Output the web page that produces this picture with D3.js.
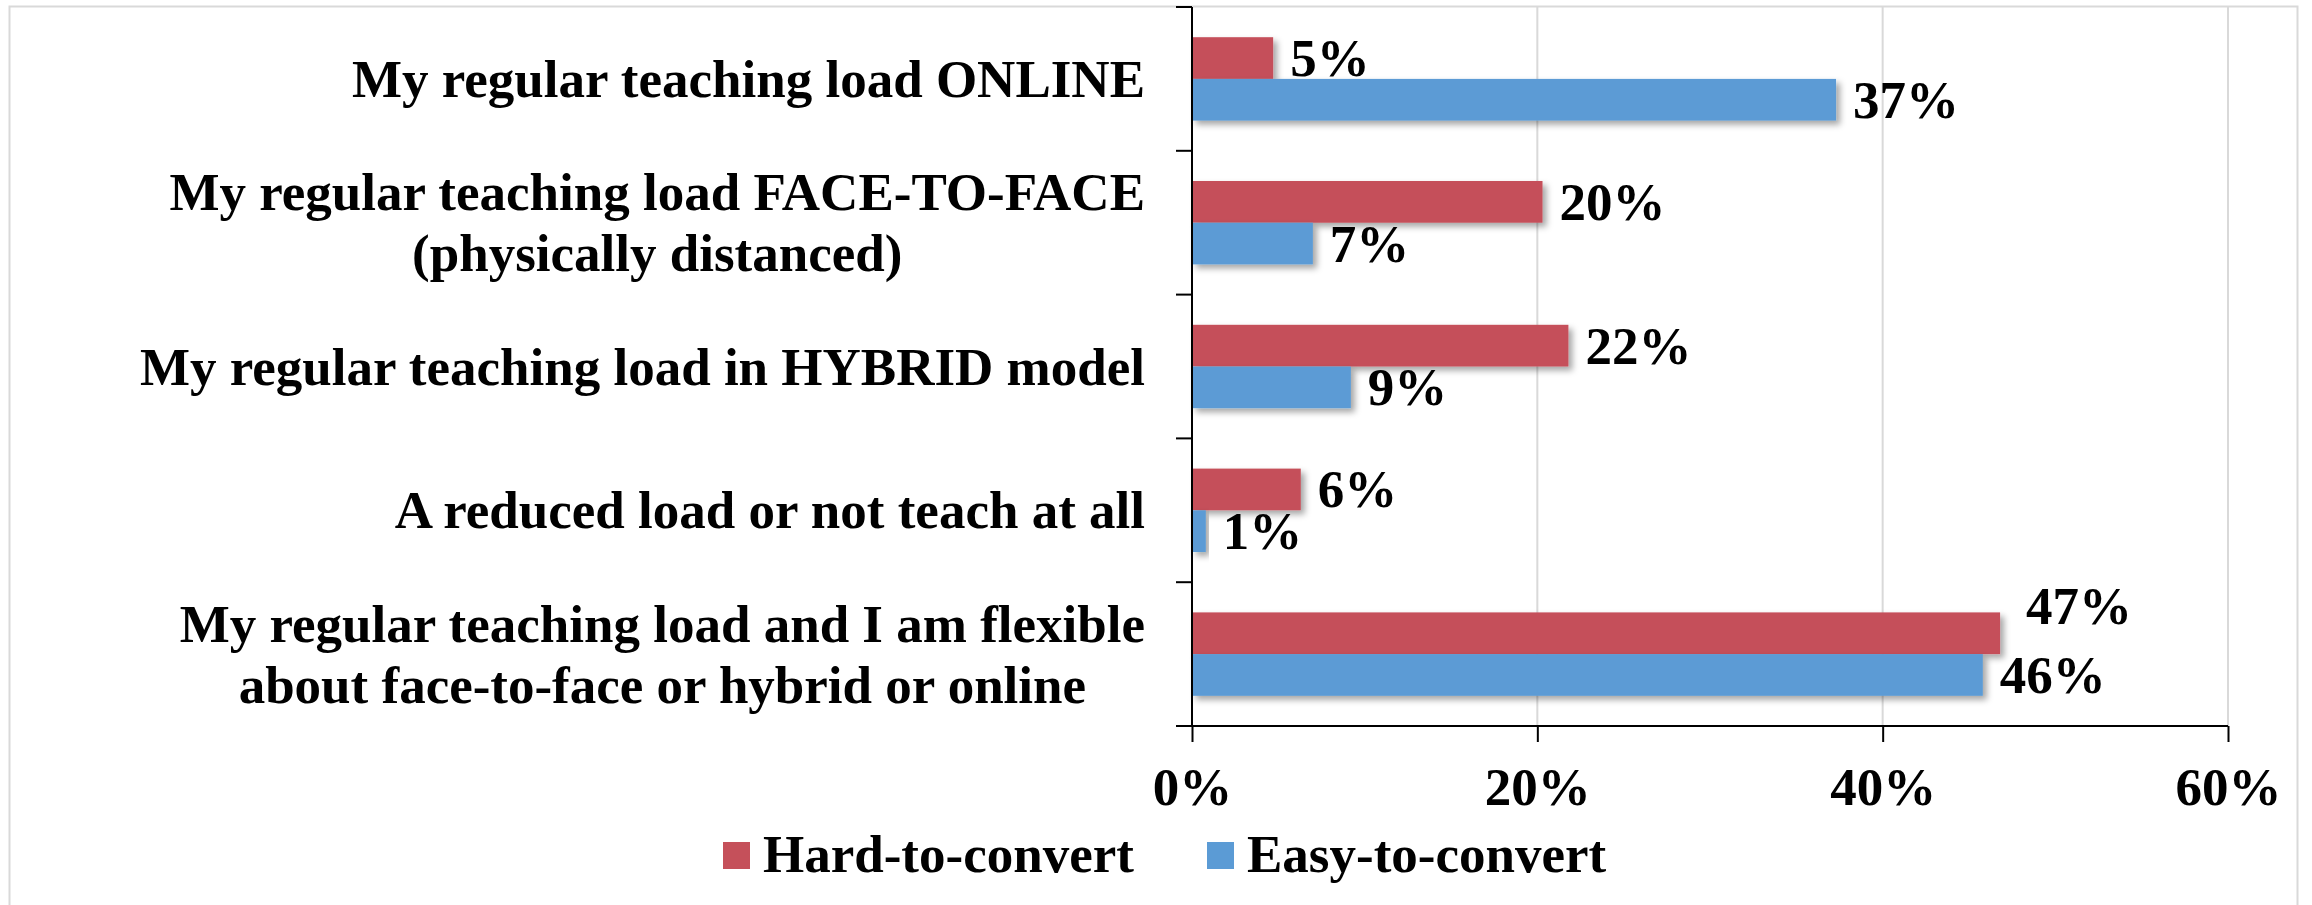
<!DOCTYPE html>
<html lang="en">
<head>
	<meta charset="UTF-8">
	<title>Teaching load preference</title>
	<style>
		body {
			margin: 0;
			background: #fff;
		}
		text {
			font-family: "Liberation Serif", "Times New Roman", serif;
			font-weight: bold;
			font-size: 53px;
			fill: #000;
		}
	</style>
</head>
<body>
	<svg></svg>
</body>
<script src="https://cdnjs.cloudflare.com/ajax/libs/d3/7.8.5/d3.min.js"></script>
<script>
	const width = 2312,
		height = 905;

	// categories top to bottom, each entry is the lines of the label
	const categories = [
		['My regular teaching load ONLINE'],
		['My regular teaching load FACE-TO-FACE', '(physically distanced)'],
		['My regular teaching load in HYBRID model'],
		['A reduced load or not teach at all'],
		['My regular teaching load and I am flexible', 'about face-to-face or hybrid or online']
	];
	const seriesNames = ['Hard-to-convert', 'Easy-to-convert'];
	const hardValues = [4.7, 20.3, 21.8, 6.3, 46.8];
	const easyValues = [37.3, 7.0, 9.2, 0.8, 45.8];
	const hardLabels = ['5%', '20%', '22%', '6%', '47%'];
	const easyLabels = ['37%', '7%', '9%', '1%', '46%'];
	const xTicks = [0, 20, 40, 60];
	const xTickLabels = ['0%', '20%', '40%', '60%'];

	const colors = ['#C5505A', '#5B9BD5'];

	const plot = { left: 1192, right: 2228, top: 7, bottom: 726 };

	const svg = d3.select('svg')
		.attr('width', width)
		.attr('height', height);

	const defs = svg.append('defs');
	defs.append('filter')
		.attr('id', 'shadow')
		.attr('x', '-10%').attr('y', '-30%')
		.attr('width', '130%').attr('height', '180%')
		.append('feDropShadow')
		.attr('dx', 4).attr('dy', 4)
		.attr('stdDeviation', 3)
		.attr('flood-color', '#000')
		.attr('flood-opacity', 0.35);

	// outer chart border
	svg.append('rect')
		.attr('x', 9.5).attr('y', 6.5)
		.attr('width', 2288).attr('height', 920)
		.attr('fill', 'none')
		.attr('stroke', '#d9d9d9')
		.attr('stroke-width', 2);

	const x = d3.scaleLinear()
		.domain([0, 60])
		.range([plot.left, plot.right]);

	const idx = categories.map((c, i) => i);
	const y = d3.scaleBand()
		.domain(idx)
		.range([plot.top, plot.bottom])
		.paddingInner(0.42)
		.paddingOuter(0.21);

	const ySub = d3.scaleBand()
		.domain([0, 1])
		.range([0, y.bandwidth()]);

	// gridlines
	svg.append('g')
		.selectAll('line')
		.data(xTicks.slice(1))
		.join('line')
		.attr('x1', d => x(d)).attr('x2', d => x(d))
		.attr('y1', plot.top).attr('y2', plot.bottom)
		.attr('stroke', '#d9d9d9')
		.attr('stroke-width', 2);

	const rows = idx.map(i => [
		{ i: i, s: 0, v: hardValues[i], label: hardLabels[i] },
		{ i: i, s: 1, v: easyValues[i], label: easyLabels[i] }
	]);

	// bars
	const groups = svg.append('g')
		.selectAll('g')
		.data(rows)
		.join('g')
		.attr('transform', (d, i) => `translate(0,${y(i)})`);

	groups.selectAll('rect')
		.data(d => d)
		.join('rect')
		.attr('x', x(0))
		.attr('y', d => ySub(d.s))
		.attr('width', d => x(d.v) - x(0))
		.attr('height', ySub.bandwidth())
		.attr('fill', d => colors[d.s])
		.attr('filter', 'url(#shadow)');

	// the 47% label was moved up and right in the original so it clears the 46%
	const nudge = { '4-0': [9, -27] };

	groups.selectAll('text.value')
		.data(d => d)
		.join('text')
		.attr('class', 'value')
		.attr('x', d => x(d.v) + 17 + (nudge[d.i + '-' + d.s] || [0, 0])[0])
		.attr('y', d => ySub(d.s) + ySub.bandwidth() / 2 + 18 + (nudge[d.i + '-' + d.s] || [0, 0])[1])
		.text(d => d.label);

	// category labels, lines centred on each other, block right aligned
	const lineH = 61;
	const catG = svg.append('g');
	categories.forEach((lines, i) => {
		const cy = y(i) + y.bandwidth() / 2;
		const t = catG.append('text')
			.attr('text-anchor', 'middle');
		lines.forEach((ln, j) => {
			t.append('tspan')
				.attr('x', 0)
				.attr('y', cy + 18 + (j - (lines.length - 1) / 2) * lineH)
				.text(ln);
		});
		const w = d3.max(t.selectAll('tspan').nodes(), n => n.getComputedTextLength());
		t.selectAll('tspan').attr('x', 1145 - w / 2);
	});

	// y axis with ticks at band boundaries
	svg.append('line')
		.attr('x1', plot.left).attr('x2', plot.left)
		.attr('y1', plot.top).attr('y2', plot.bottom)
		.attr('stroke', '#000').attr('stroke-width', 2);
	const step = y.step();
	svg.append('g')
		.selectAll('line')
		.data(d3.range(categories.length + 1))
		.join('line')
		.attr('x1', plot.left - 16).attr('x2', plot.left)
		.attr('y1', d => plot.top + d * step)
		.attr('y2', d => plot.top + d * step)
		.attr('stroke', '#000').attr('stroke-width', 2);

	// x axis
	const xAxis = svg.append('g')
		.attr('transform', `translate(0,${plot.bottom})`)
		.call(d3.axisBottom(x)
			.tickValues(xTicks)
			.tickFormat((d, i) => xTickLabels[i])
			.tickSize(16)
			.tickPadding(25));
	xAxis.select('.domain')
		.attr('stroke', '#000').attr('stroke-width', 2)
		.attr('d', `M${plot.left},0H${plot.right}`);
	xAxis.selectAll('.tick line').attr('stroke', '#000').attr('stroke-width', 2);
	xAxis.selectAll('.tick text')
		.attr('fill', '#000')
		.attr('dy', '0.71em');
	xAxis.attr('font-size', null).attr('font-family', null);

	// legend
	const legendX = [723, 1207];
	const legend = svg.append('g')
		.selectAll('g')
		.data(seriesNames)
		.join('g')
		.attr('transform', (d, i) => `translate(${legendX[i]},842)`);
	legend.append('rect')
		.attr('width', 27).attr('height', 27)
		.attr('fill', (d, i) => colors[i]);
	legend.append('text')
		.attr('x', 40)
		.attr('y', 30)
		.text(d => d);
</script>
</html>
